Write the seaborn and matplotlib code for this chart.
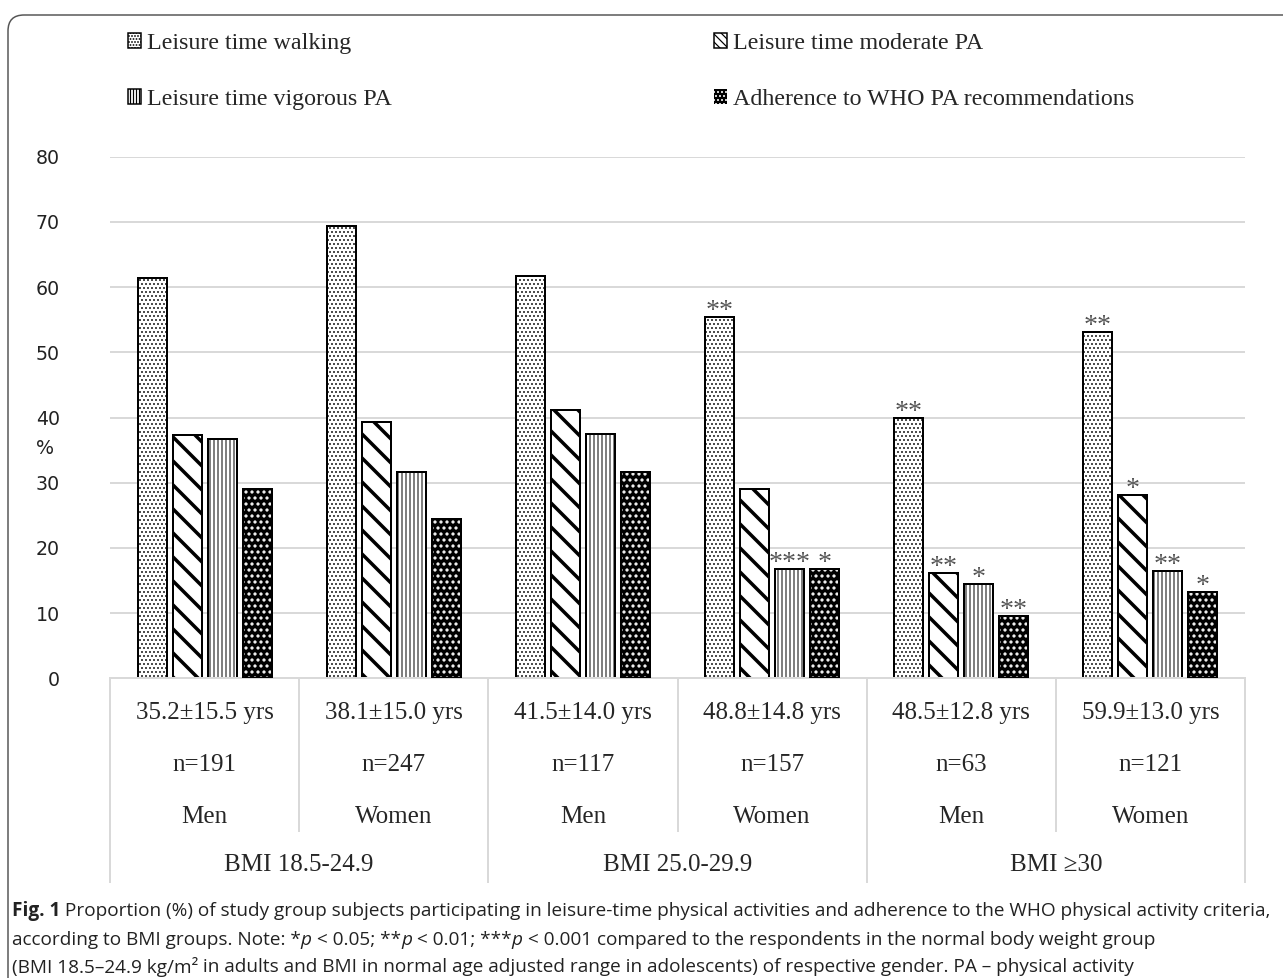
import matplotlib
matplotlib.use("Agg")
import matplotlib.pyplot as plt
import matplotlib.transforms as mtransforms
from matplotlib.patches import Patch, Rectangle, FancyBboxPatch
import pandas as pd
import seaborn as sns

# ---- data ----
age_labels = ["35.2±15.5 yrs", "38.1±15.0 yrs", "41.5±14.0 yrs",
              "48.8±14.8 yrs", "48.5±12.8 yrs", "59.9±13.0 yrs"]
n_labels = ["n=191", "n=247", "n=117", "n=157", "n=63", "n=121"]
sex_labels = ["Men", "Women", "Men", "Women", "Men", "Women"]
bmi_groups = ["BMI 18.5-24.9", "BMI 25.0-29.9", "BMI \u226530"]

activities = ["Leisure time walking", "Leisure time moderate PA",
              "Leisure time vigorous PA", "Adherence to WHO PA recommendations"]
walking = [61.4, 69.3, 61.7, 55.4, 39.9, 53.1]
moderate = [37.3, 39.3, 41.1, 29.0, 16.1, 28.1]
vigorous = [36.7, 31.7, 37.5, 16.8, 14.5, 16.5]
who_adherence = [29.1, 24.5, 31.6, 16.8, 9.6, 13.2]

stars_walking = ["", "", "", "**", "**", "**"]
stars_moderate = ["", "", "", "", "**", "*"]
stars_vigorous = ["", "", "", "***", "*", "**"]
stars_who = ["", "", "", "*", "**", "*"]

series = [walking, moderate, vigorous, who_adherence]
stars = [stars_walking, stars_moderate, stars_vigorous, stars_who]

rows = []
for act, vals in zip(activities, series):
    for lab, v in zip(age_labels, vals):
        rows.append({"group": lab, "activity": act, "value": v})
df = pd.DataFrame(rows)

# ---- styling ----
W, H, DPI = 1283, 978, 72
sns.set_theme(style="white")
plt.rcParams["font.family"] = ["DejaVu Sans"]
plt.rcParams["hatch.linewidth"] = 1.0

serif = ["Liberation Serif", "DejaVu Serif"]
caption_font = ["Open Sans", "DejaVu Sans"]

# face, edge/hatch colour, hatch, hatch linewidth
styles = [
    ("white", "black", "...", 1.0),
    ("white", "black", "\\", 3.5),
    ("white", "black", "|||", 1.0),
    ("black", "white", "..", 2.0),
]
# denser hatches for the small legend squares
legend_hatches = ["....", "\\\\\\", "||||", "..."]


def set_hatch_lw(p, lw):
    if hasattr(p, "set_hatch_linewidth"):
        p.set_hatch_linewidth(lw)
    else:
        p._hatch_linewidth = lw


fig = plt.figure(figsize=(W / DPI, H / DPI), dpi=DPI)
ax = fig.add_axes([110 / W, 1 - 678.3 / H, 1135 / W, 521.6 / H])

sns.barplot(data=df, x="group", y="value", hue="activity", order=age_labels,
            hue_order=activities, width=0.74, gap=0.17, color="white",
            edgecolor="black", linewidth=2, legend=False, ax=ax)

for cont, (fc, ec, hatch, hlw), st in zip(ax.containers, styles, stars):
    for bar, s in zip(cont, st):
        bar.set_facecolor(fc)
        bar.set_edgecolor(ec)
        bar.set_hatch(hatch)
        set_hatch_lw(bar, hlw)
        if ec == "white":
            bar.set_linewidth(0)
            ax.add_patch(Rectangle((bar.get_x(), bar.get_y()), bar.get_width(),
                                   bar.get_height(), fill=False,
                                   edgecolor="black", linewidth=2, zorder=3))
        if s:
            ax.annotate(s, (bar.get_x() + bar.get_width() / 2, bar.get_height()),
                        xytext=(0, -1), textcoords="offset points",
                        ha="center", va="baseline", fontsize=28,
                        color="#555555", family=serif)

ax.set_ylim(0, 80)
ax.set_xlim(-0.5, 5.5)
ax.set_yticks(range(0, 81, 10))
ax.yaxis.grid(True, color="#d9d9d9", linewidth=2)
ax.set_axisbelow(True)
ax.tick_params(axis="y", length=0, pad=50, labelsize=19, labelcolor="#222222")
ax.tick_params(axis="x", length=0, labelbottom=False)
ax.set_xlabel("")
ax.set_ylabel("")
for side in ["top", "right", "left"]:
    ax.spines[side].set_visible(False)
ax.spines["bottom"].set_color("#d9d9d9")
ax.spines["bottom"].set_linewidth(2)
ax.text(-0.057, 0.4415, "%", transform=ax.transAxes, fontsize=19,
        ha="center", va="center", color="#222222")

# ---- category table below the axis ----
tr = ax.get_xaxis_transform()
ax.vlines([-0.5, 1.5, 3.5, 5.5], -0.393, 0, transform=tr, colors="#d9d9d9",
          linewidth=2, clip_on=False)
ax.vlines([0.5, 2.5, 4.5], -0.294, 0, transform=tr, colors="#d9d9d9",
          linewidth=2, clip_on=False)
for i, (a, n, s) in enumerate(zip(age_labels, n_labels, sex_labels)):
    ax.text(i, -0.0671, a, transform=tr, ha="center", va="center",
            fontsize=25, family=serif)
    ax.text(i, -0.1662, n, transform=tr, ha="center", va="center",
            fontsize=25, family=serif)
    ax.text(i, -0.2653, s, transform=tr, ha="center", va="center",
            fontsize=25, family=serif)
for j, g in enumerate(bmi_groups):
    ax.text(2 * j + 0.5, -0.358, g, transform=tr, ha="center", va="center",
            fontsize=25, family=serif)

# ---- legend (two columns drawn as two legends) ----
handles = [Patch(facecolor=fc, edgecolor=ec, hatch=h, linewidth=1.5)
           for (fc, ec, _, _), h in zip(styles, legend_hatches)]
legend_cols = [(0, 2, 128), (1, 3, 714)]
for a_idx, b_idx, xpix in legend_cols:
    leg = fig.legend([handles[a_idx], handles[b_idx]],
                     [activities[a_idx], activities[b_idx]],
                     loc="upper left", bbox_to_anchor=(xpix / W, 1 - 33 / H),
                     frameon=False, borderpad=0, borderaxespad=0,
                     handlelength=0.55, handleheight=0.55, handletextpad=0.25,
                     labelspacing=1.45, prop={"family": serif, "size": 24})
    for hnd, k in zip(leg.legend_handles, [a_idx, b_idx]):
        set_hatch_lw(hnd, 1.2)
        if styles[k][1] == "white":
            hnd.set_edgecolor("white")
            hnd.set_linewidth(0)

# ---- outer frame ----
frame = FancyBboxPatch((8, -30), 1300, H - 15 + 30,
                       boxstyle="round,pad=0,rounding_size=16",
                       transform=mtransforms.IdentityTransform(),
                       fill=False, edgecolor="#555555", linewidth=1.5)
fig.patches.append(frame)

# ---- caption ----
renderer = fig.canvas.get_renderer()
cap_size = 19
caption_lines = [
    [("Fig. 1", "bold", "normal"),
     (" Proportion (%) of study group subjects participating in leisure-time "
      "physical activities and adherence to the WHO physical activity criteria,",
      "normal", "normal")],
    [("according to BMI groups. Note: *", "normal", "normal"),
     ("p", "normal", "italic"), (" < 0.05; **", "normal", "normal"),
     ("p", "normal", "italic"), (" < 0.01; ***", "normal", "normal"),
     ("p", "normal", "italic"),
     (" < 0.001 compared to the respondents in the normal body weight group",
      "normal", "normal")],
    [("(BMI 18.5\u201324.9 kg/m\u00b2", "normal", "normal"),
     (" in adults and BMI in normal age adjusted range in adolescents) of "
      "respective gender. PA \u2013 physical activity", "normal", "normal")],
]
cap_y = [911, 940, 967]
for line, ypix in zip(caption_lines, cap_y):
    x = 12
    for txt, wt, stl in line:
        t = fig.text(x / W, 1 - ypix / H, txt, fontsize=cap_size, weight=wt,
                     style=stl, family=caption_font, ha="left", va="center",
                     color="#222222")
        x += t.get_window_extent(renderer).width

fig.savefig("out.png", dpi=DPI)
